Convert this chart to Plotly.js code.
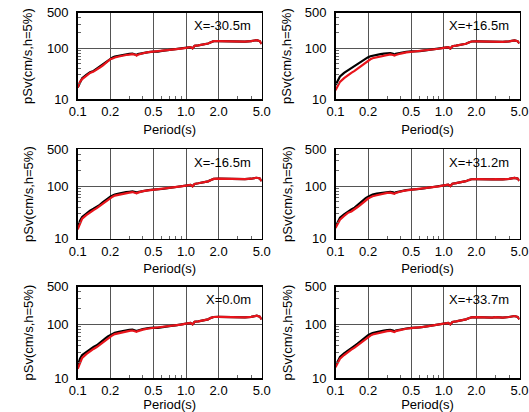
<!DOCTYPE html>
<html>
<head>
<meta charset="utf-8">
<script src="https://cdn.plot.ly/plotly-3.0.1.min.js"></script>
<style>html,body{margin:0;padding:0;background:#fff;}#chart{width:529px;height:412px;}</style>
</head>
<body>
<div id="chart"></div>
<script>
const periods = [0.10,0.105,0.11,0.12,0.13,0.14,0.15,0.16,0.17,0.18,0.19,0.20,0.21,0.22,0.24,0.26,0.28,0.30,0.32,0.34,0.35,0.36,0.38,0.40,0.45,0.50,0.55,0.60,0.65,0.70,0.80,0.90,1.00,1.10,1.15,1.20,1.30,1.40,1.50,1.60,1.70,1.80,2.00,2.20,2.50,2.80,3.00,3.50,4.00,4.50,4.80,5.00];

const panelLabels = ["X=-30.5m","X=+16.5m","X=-16.5m","X=+31.2m","X=0.0m","X=+33.7m"];

const red1 = [17,22,25,29,33,35,38,42,46,51,56,61,63,66,69,72,74,75,77,75,72,75,78,80,84,86,86,89,91,93,96,99,102,106,100,112,114,117,120,124,132,138,138,137,135,136,137,135,138,145,138,122];
const black1 = [17,22,26,30,34,36,40,44,48,53,58,63,66,69,72,75,77,78,79,77,74,77,79,81,84,86,86,89,91,93,96,99,102,106,100,112,114,117,120,124,132,138,138,137,135,136,137,135,138,145,138,122];

const red2 = [15,19,22,26,30,33,36,40,44,48,53,58,61,64,67,70,72,74,76,74,72,74,77,79,83,85,86,88,90,92,95,98,102,105,99,110,113,116,119,123,130,136,137,136,134,135,136,134,137,143,138,125];
const black2 = [19,24,28,33,37,41,45,49,53,58,63,67,70,72,75,77,79,80,81,78,75,78,80,82,85,87,86,88,90,92,95,98,102,105,99,110,113,116,119,123,130,136,137,136,134,135,136,134,137,143,138,125];

const red3 = [15,20,24,28,32,35,38,42,46,51,56,60,63,66,69,72,74,75,77,75,73,75,78,80,83,85,86,88,90,92,96,99,102,105,99,110,113,116,119,123,131,137,138,137,135,136,137,135,138,144,139,124];
const black3 = [16,22,26,30,34,37,40,44,49,54,59,63,66,69,72,75,77,78,79,77,74,77,79,81,84,86,86,88,90,92,96,99,102,105,99,110,113,116,119,123,131,137,138,137,135,136,137,135,138,144,139,124];

const red4 = [16,19,23,27,31,33,36,40,44,49,54,58,61,64,67,70,72,74,75,73,71,74,77,79,83,85,86,88,90,92,96,99,103,106,100,111,114,117,120,124,130,135,136,135,133,134,136,134,137,143,139,126];
const black4 = [17,21,25,29,33,36,39,44,49,54,59,63,66,69,72,74,76,77,78,76,73,76,78,80,84,86,86,88,90,92,96,99,103,106,100,111,114,117,120,124,130,135,136,135,133,134,136,134,137,143,139,126];

const red5 = [15,20,24,28,32,35,38,42,46,51,56,60,63,66,69,72,74,76,77,75,73,75,78,80,84,86,86,89,91,93,96,99,103,106,100,112,114,117,120,124,132,137,138,137,135,136,137,135,138,145,139,124];
const black5 = [17,23,27,31,35,38,41,45,50,55,60,64,67,70,73,76,78,79,80,78,75,77,80,82,85,87,86,89,91,93,96,99,103,106,100,112,114,117,120,124,132,137,138,137,135,136,137,135,138,145,139,124];

const red6 = [16,19,23,27,31,34,37,41,45,50,55,59,62,65,68,71,73,75,76,74,72,75,77,79,83,85,86,88,90,92,96,99,103,106,100,111,114,117,120,124,130,135,136,135,133,134,136,134,137,143,138,124];
const black6 = [17,21,25,29,33,36,40,44,49,54,59,63,66,69,72,75,77,78,79,77,74,77,79,81,84,86,86,88,90,92,96,99,103,106,100,111,114,117,120,124,130,135,136,135,133,134,136,134,137,143,138,124];

const xTickVals = [0.1,0.2,0.5,1,2,5];
const xTickText = ["0.1","0.2","0.5","1.0","2.0","5.0"];
const xMinorVals = [0.3,0.4,0.6,0.7,0.8,0.9,3,4];
const yTickVals = [10,100,500];
const yTickText = ["10","100","500"];
const yMinorVals = [20,30,40,50,60,70,80,90,200,300,400];
const xTitle = "Period(s)";
const yTitle = "pSv(cm/s,h=5%)";

const redSeries = [red1,red2,red3,red4,red5,red6];
const blackSeries = [black1,black2,black3,black4,black5,black6];

const FONT = "Liberation Sans, Arial, Helvetica, sans-serif";
const FS = 13;
const W = 529, H = 412;
const colDom = [[77.7/W, 261.7/W],[335.5/W, 519.5/W]];
const yTitleX = [28/W, 287/W];
const rowDom = [[1-99.3/H, 1-12.7/H],[1-238.7/H, 1-149.3/H],[1-378.3/H, 1-286.7/H]];

const data = [];
const layout = {
  width: W, height: H,
  margin: {l:0, r:0, t:0, b:0},
  paper_bgcolor: "#fff", plot_bgcolor: "#fff",
  showlegend: false,
  font: {family: FONT, size: FS, color: "#000"},
  annotations: []
};

for (let i = 0; i < 6; i++) {
  const n = i === 0 ? "" : String(i+1);
  const xa = "x" + n, ya = "y" + n;
  const r = Math.floor(i/2), c = i % 2;
  data.push({x: periods, y: blackSeries[i], xaxis: xa, yaxis: ya, mode: "lines",
    line: {color: "#000", width: 2.2}, hoverinfo: "skip"});
  data.push({x: periods, y: redSeries[i], xaxis: xa, yaxis: ya, mode: "lines",
    line: {color: "#e8141b", width: 2.2}, hoverinfo: "skip"});
  layout["xaxis" + n] = {
    type: "log", range: [-1, Math.log10(5)], domain: colDom[c], anchor: ya,
    tickmode: "array", tickvals: xTickVals, ticktext: xTickText,
    showgrid: true, gridcolor: "#555", gridwidth: 1,
    showline: true, linecolor: "#000", linewidth: 1.5, mirror: true,
    ticks: "", zeroline: false, ticklabeloverflow: "allow",
    minor: {tickmode: "array", tickvals: xMinorVals, ticks: "inside", ticklen: 3, tickcolor: "#666", showgrid: false},
    tickfont: {family: FONT, size: FS, color: "#000"},
    title: {text: xTitle, font: {family: FONT, size: FS, color: "#000"}, standoff: 6}
  };
  layout["yaxis" + n] = {
    type: "log", range: [1, Math.log10(500)], domain: rowDom[r], anchor: xa,
    tickmode: "array", tickvals: yTickVals, ticktext: yTickText,
    showgrid: true, gridcolor: "#555", gridwidth: 1,
    showline: true, linecolor: "#000", linewidth: 1.5, mirror: true,
    ticks: "", zeroline: false, ticklabelstandoff: 5,
    minor: {tickmode: "array", tickvals: yMinorVals, ticks: "inside", ticklen: 3, tickcolor: "#666", showgrid: false},
    tickfont: {family: FONT, size: FS, color: "#000"}
  };
  layout.annotations.push({
    text: yTitle, xref: "paper", yref: ya + " domain",
    x: yTitleX[c], y: 0.5, xanchor: "center", yanchor: "middle", textangle: -90, showarrow: false,
    font: {family: FONT, size: FS, color: "#000"}
  });
  layout.annotations.push({
    text: panelLabels[i], xref: xa + " domain", yref: ya + " domain",
    x: 0.955, y: 0.855, xanchor: "right", yanchor: "middle", showarrow: false,
    font: {family: FONT, size: FS, color: "#000"}
  });
}

Plotly.newPlot("chart", data, layout, {displayModeBar: false, staticPlot: true});
</script>
</body>
</html>
